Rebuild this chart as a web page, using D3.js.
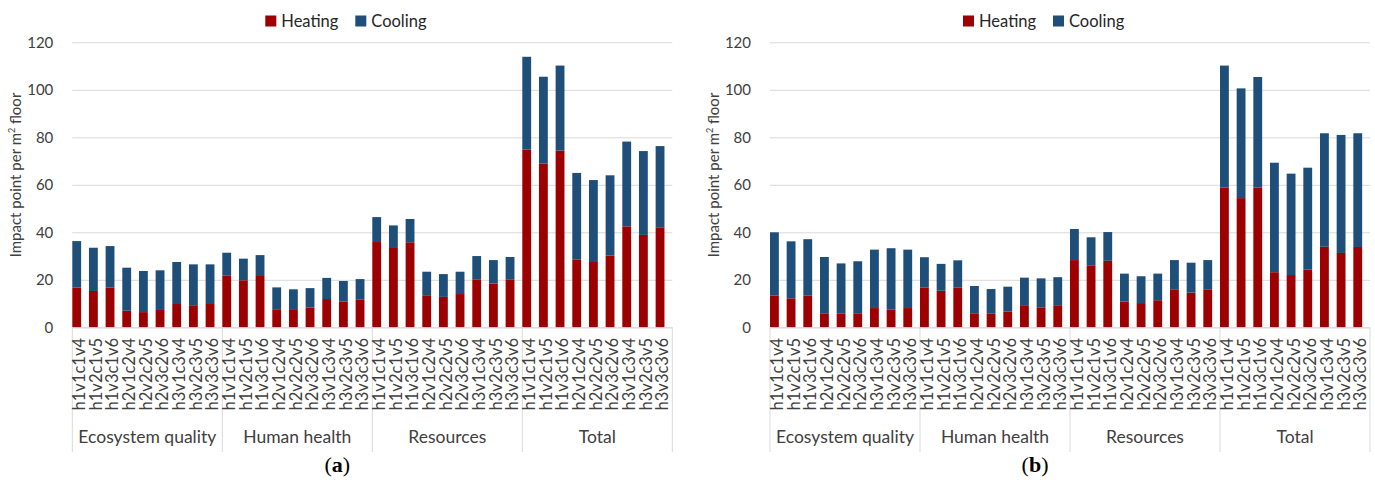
<!DOCTYPE html>
<html>
<head>
<meta charset="utf-8">
<script src="https://cdn.jsdelivr.net/npm/d3@7"></script>
<style>
  html, body { margin: 0; padding: 0; background: #ffffff; }
  svg { display: block; font-family: Lato, "Open Sans", sans-serif; }
</style>
</head>
<body>
<svg id="chart" width="1375" height="486"></svg>
<script>
// Building variants within each impact category
const variants = ["h1v1c1v4", "h1v2c1v5", "h1v3c1v6", "h2v1c2v4", "h2v2c2v5",
                  "h2v3c2v6", "h3v1c3v4", "h3v2c3v5", "h3v3c3v6"];
// Impact categories (outer level of the category axis)
const groups = ["Ecosystem quality", "Human health", "Resources", "Total"];
// Value axis ticks
const yTicks = [0, 20, 40, 60, 80, 100, 120];
const seriesNames = ["Heating", "Cooling"];

// Panel (a)
const heatingA = [16.7, 15.3, 16.7, 7.0, 6.4, 7.3, 9.8, 9.3, 9.8,
                  21.7, 19.8, 21.6, 7.6, 7.3, 8.3, 11.9, 10.9, 11.6,
                  35.9, 33.4, 35.8, 13.5, 12.8, 14.0, 20.2, 18.4, 20.0,
                  74.8, 68.9, 74.4, 28.6, 27.5, 30.2, 42.5, 38.9, 42.1];
const coolingA = [19.6, 18.2, 17.5, 18.1, 17.3, 16.7, 17.7, 17.2, 16.7,
                  9.7, 9.1, 8.8, 9.2, 8.7, 8.2, 8.9, 8.6, 8.7,
                  10.5, 9.5, 9.8, 9.9, 9.6, 9.4, 9.8, 9.9, 9.6,
                  39.1, 36.6, 35.8, 36.4, 34.5, 33.8, 35.7, 35.3, 34.2];

// Panel (b)
const heatingB = [13.3, 12.2, 13.3, 5.9, 5.7, 5.9, 8.1, 7.4, 8.1,
                  16.8, 15.4, 16.8, 5.9, 5.7, 6.6, 9.3, 8.4, 9.3,
                  28.3, 25.9, 28.0, 10.8, 10.2, 11.4, 16.0, 14.6, 16.0,
                  58.8, 54.4, 58.8, 23.2, 22.0, 24.3, 33.9, 31.3, 33.8];
const coolingB = [26.7, 24.0, 23.8, 23.7, 21.2, 21.9, 24.6, 25.9, 24.6,
                  12.7, 11.3, 11.4, 11.5, 10.4, 10.5, 11.6, 12.2, 11.8,
                  13.1, 12.0, 12.1, 11.8, 11.3, 11.2, 12.3, 12.6, 12.3,
                  51.4, 46.2, 46.6, 46.1, 42.7, 42.9, 47.8, 49.7, 47.9];

const colors = { Heating: "#9c0000", Cooling: "#1f4e79" };
const gridColor = "#d9d9d9";
const textColor = "#404040";

const svg = d3.select("#chart");

function drawPanel(left, heating, cooling, tag) {
  const plotLeft = left, plotRight = left + 600;
  const plotTop = 42.3, plotBottom = 327.3;

  // one row per bar: group + variant
  const rows = [];
  groups.forEach((g, gi) => variants.forEach((v, vi) => {
    const i = gi * variants.length + vi;
    rows.push({ key: i, group: g, variant: v, Heating: heating[i], Cooling: cooling[i] });
  }));

  const x = d3.scaleBand().domain(rows.map(r => r.key)).range([plotLeft, plotRight]).padding(0);
  const y = d3.scaleLinear().domain([0, 120]).range([plotBottom, plotTop]);
  const barW = x.bandwidth() * 0.53;

  const g = svg.append("g");

  // horizontal gridlines
  g.append("g")
    .attr("transform", `translate(${plotLeft},0)`)
    .call(d3.axisLeft(y).tickValues(yTicks).tickSize(-(plotRight - plotLeft)).tickFormat(""))
    .call(a => a.select(".domain").remove())
    .call(a => a.selectAll(".tick line").attr("stroke", gridColor).attr("stroke-width", 1));

  // y tick labels
  g.append("g")
    .attr("transform", `translate(${plotLeft - 19},0)`)
    .call(d3.axisLeft(y).tickValues(yTicks).tickSize(0).tickPadding(0))
    .call(a => a.select(".domain").remove())
    .call(a => a.selectAll("text")
      .attr("fill", textColor).attr("font-size", "15px")
      .attr("font-family", "Lato, 'Open Sans', sans-serif"));

  // stacked bars
  const stack = d3.stack().keys(seriesNames)(rows);
  g.append("g").selectAll("g")
    .data(stack).join("g")
    .attr("fill", d => colors[d.key])
    .selectAll("rect")
    .data(d => d).join("rect")
    .attr("x", d => x(d.data.key))
    .attr("width", barW)
    .attr("y", d => y(d[1]))
    .attr("height", d => y(d[0]) - y(d[1]));

  // category axis line and group dividers
  const axisBottom = 452;
  g.append("line")
    .attr("x1", plotLeft).attr("x2", plotRight)
    .attr("y1", plotBottom + 0.5).attr("y2", plotBottom + 0.5)
    .attr("stroke", gridColor).attr("stroke-width", 1);
  const bounds = groups.map((gr, gi) => x(gi * variants.length)).concat([plotRight]);
  g.append("g").selectAll("line")
    .data(bounds).join("line")
    .attr("x1", d => d).attr("x2", d => d)
    .attr("y1", plotBottom).attr("y2", axisBottom)
    .attr("stroke", gridColor).attr("stroke-width", 1);

  // variant labels, rotated
  g.append("g").selectAll("text")
    .data(rows).join("text")
    .attr("transform", d => `translate(${x(d.key) + x.bandwidth() / 2 + 4.5},338) rotate(-90)`)
    .attr("text-anchor", "end")
    .attr("fill", textColor)
    .attr("font-size", "16.5px")
    .text(d => d.variant);

  // group labels
  g.append("g").selectAll("text")
    .data(groups).join("text")
    .attr("x", (d, i) => (bounds[i] + bounds[i + 1]) / 2)
    .attr("y", 443)
    .attr("text-anchor", "middle")
    .attr("fill", textColor)
    .attr("font-size", "17.5px")
    .text(d => d);

  // y axis title
  const title = g.append("text")
    .attr("transform", `translate(${plotLeft - 51},175) rotate(-90)`)
    .attr("text-anchor", "middle")
    .attr("fill", textColor)
    .attr("font-size", "15px");
  title.append("tspan").text("Impact point per m");
  title.append("tspan").attr("font-size", "9px").attr("dy", "-6").text("2");
  title.append("tspan").attr("dy", "6").text(" floor");

  // legend
  const legend = g.append("g").attr("transform", `translate(${plotLeft + 193},21)`);
  const items = [{ name: "Heating", dx: 0 }, { name: "Cooling", dx: 90 }];
  items.forEach(it => {
    legend.append("rect")
      .attr("x", it.dx).attr("y", -5.5).attr("width", 11).attr("height", 11)
      .attr("fill", colors[it.name]);
    legend.append("text")
      .attr("x", it.dx + 16).attr("y", 0)
      .attr("dominant-baseline", "central")
      .attr("fill", "#262626")
      .attr("font-size", "16.5px")
      .text(it.name);
  });

  // panel tag
  const tagText = svg.append("text")
    .attr("x", plotLeft + 265).attr("y", 472)
    .attr("text-anchor", "middle")
    .attr("fill", "#000")
    .attr("font-family", "'Liberation Serif', 'DejaVu Serif', serif")
    .attr("font-size", "22px");
  tagText.append("tspan").text("(");
  tagText.append("tspan").attr("font-weight", "bold").text(tag);
  tagText.append("tspan").text(")");
}

drawPanel(72.3, heatingA, coolingA, "a");
drawPanel(770, heatingB, coolingB, "b");
</script>
</body>
</html>
